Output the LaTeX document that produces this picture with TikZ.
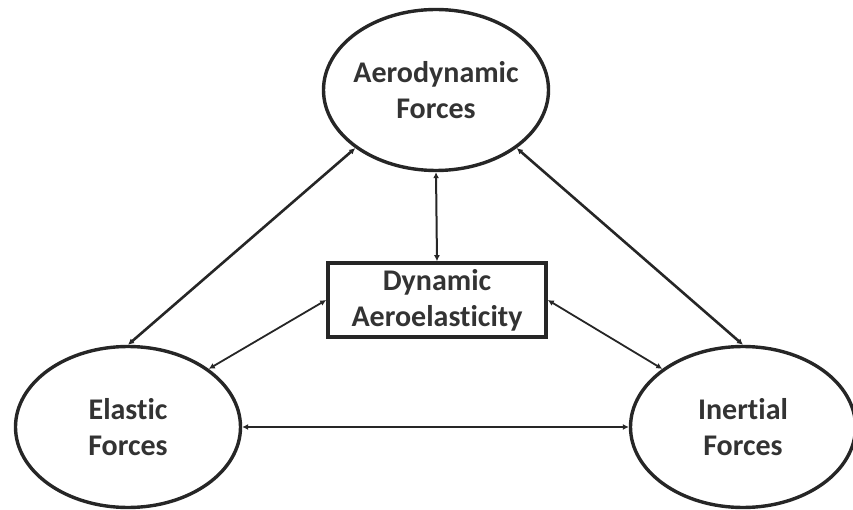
\documentclass[tikz,border=0pt]{standalone}
\usepackage{fontspec}
\setmainfont{Carlito}[RawFeature=-liga]
\usetikzlibrary{shapes.geometric,arrows.meta}
\begin{document}
\begin{tikzpicture}[x=1pt,y=-1pt,
    force/.style={ellipse,draw=black!85,line width=3.4pt,minimum width=225pt,minimum height=161pt,
      inner xsep=-12pt,inner ysep=0pt,
      align=center,text=black!80,font=\fontsize{30}{36}\selectfont\bfseries},
    core/.style={rectangle,draw=black!85,line width=3.6pt,minimum width=218pt,minimum height=74pt,
      align=center,text=black!80,font=\fontsize{30}{36}\selectfont\bfseries,inner sep=0pt},
    link/.style={<->,>={Latex[length=6pt,width=6pt]},draw=black!85}]
  \useasboundingbox (0,0) rectangle (853,510);
  \draw
    (436,90) node[force] (aero){Aerodynamic\\Forces}
    (128,427) node[force] (elastic){Elastic\\Forces}
    (743,427) node[force] (inertial){Inertial\\Forces}
    (437,300) node[core] (dyn){Dynamic\\Aeroelasticity};
  \begin{scope}[link]
    \draw[line width=2.6pt] (elastic.north) to (aero.south west);
    \draw[line width=2.6pt] (aero.south east) to (inertial.north);
    \draw[line width=2.2pt] (elastic.east) to (inertial.west);
    \draw[line width=2pt] (dyn.north) to (aero.south);
    \draw[line width=1.8pt] (dyn.west) to (elastic.north east);
    \draw[line width=1.8pt] (dyn.east) to (inertial.north west);
  \end{scope}
\end{tikzpicture}
\end{document}
